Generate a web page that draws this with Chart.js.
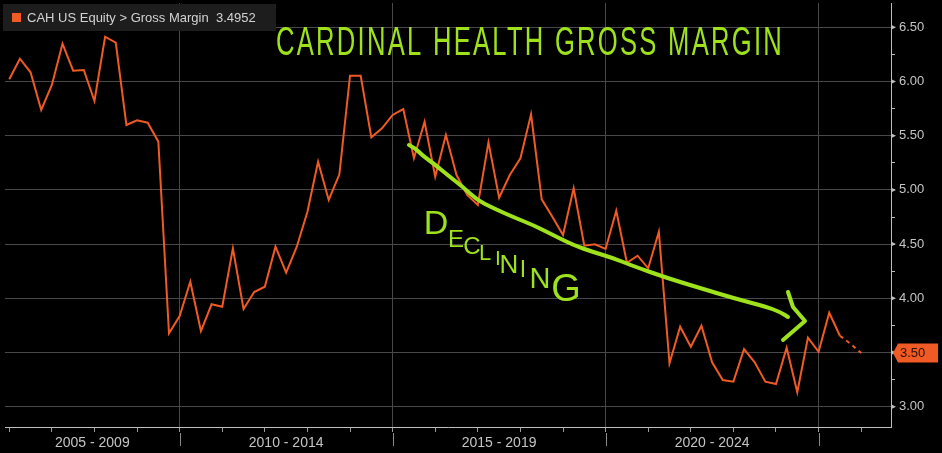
<!DOCTYPE html>
<html><head><meta charset="utf-8">
<script src="https://cdn.jsdelivr.net/npm/chart.js@4.4.1/dist/chart.umd.min.js"></script>
<style>html,body{margin:0;padding:0;background:#000;overflow:hidden}canvas{display:block}</style>
</head><body>
<canvas id="c" width="942" height="453"></canvas>
<script>
// ---- data ----
const quarterEnds = [
 "2005-12",
 "2006-03","2006-06","2006-09","2006-12",
 "2007-03","2007-06","2007-09","2007-12",
 "2008-03","2008-06","2008-09","2008-12",
 "2009-03","2009-06","2009-09","2009-12",
 "2010-03","2010-06","2010-09","2010-12",
 "2011-03","2011-06","2011-09","2011-12",
 "2012-03","2012-06","2012-09","2012-12",
 "2013-03","2013-06","2013-09","2013-12",
 "2014-03","2014-06","2014-09","2014-12",
 "2015-03","2015-06","2015-09","2015-12",
 "2016-03","2016-06","2016-09","2016-12",
 "2017-03","2017-06","2017-09","2017-12",
 "2018-03","2018-06","2018-09","2018-12",
 "2019-03","2019-06","2019-09","2019-12",
 "2020-03","2020-06","2020-09","2020-12",
 "2021-03","2021-06","2021-09","2021-12",
 "2022-03","2022-06","2022-09","2022-12",
 "2023-03","2023-06","2023-09","2023-12",
 "2024-03","2024-06","2024-09","2024-12",
 "2025-03","2025-06"
];
const grossMargin = [
 6.02,
 6.21,6.085,5.737,5.968,
 6.349,6.10,6.106,5.82,
 6.413,6.358,5.599,5.642,
 5.62,5.445,3.677,3.837,
 4.153,3.698,3.945,3.922,
 4.461,3.901,4.058,4.107,
 4.476,4.236,4.476,4.799,
 5.26,4.907,5.144,6.053,
 6.053,5.485,5.568,5.691,
 5.746,5.292,5.629,5.122,
 5.506,5.137,4.953,4.861,
 5.439,4.928,5.137,5.292,
 5.697,4.913,4.753,4.584,
 5.015,4.485,4.498,4.455,
 4.808,4.328,4.393,4.277,
 4.614,3.40,3.738,3.553,
 3.747,3.41,3.246,3.231,
 3.532,3.41,3.231,3.209,
 3.544,3.133,3.637,3.507,
 3.867,3.655
];
const estimateQuarters = ["2025-09","2025-12"];
const estimates = [3.58, 3.4952];
const yTickValues = [3.00,3.25,3.50,3.75,4.00,4.25,4.50,4.75,5.00,5.25,5.50,5.75,6.00,6.25,6.50];
const yearTicks = [2006,2007,2008,2009,2010,2011,2012,2013,2014,2015,2016,2017,2018,2019,2020,2021,2022,2023,2024,2025,2026];
const periodStarts = [2005,2010,2015,2020];
const periodLabels = ["2005 - 2009","2010 - 2014","2015 - 2019","2020 - 2024"];
const seriesName = "CAH US Equity > Gross Margin";
const lastValue = 3.4952;

// ---- derived ----
const X_MIN = 2005.9, X_MAX = 2026.7, Y_MIN = 2.813, Y_MAX = 6.724;
const toYear = s => { const [y,m] = s.split('-').map(Number); return y + m/12; };
const pts = quarterEnds.map((q,i)=>({x:toYear(q), y:grossMargin[i]}))
  .concat(estimateQuarters.map((q,i)=>({x:toYear(q), y:estimates[i]})));
const nActual = quarterEnds.length;
const periodCenters = periodStarts.map(s => (Math.max(s, X_MIN) + s + 5) / 2);

const ORANGE = '#f05a24', GREEN = '#9ee21b', GRID = '#484848', AXIS = '#bdbdbd', TXT = '#c4c4c4';
const FONT = '"Liberation Sans", Arial, sans-serif';

const overlay = {
  id: 'overlay',
  afterDraw(chart) {
    const ctx = chart.ctx, xs = chart.scales.x, ys = chart.scales.y;
    const ca = chart.chartArea;
    ctx.save();
    // y-axis triangles at labelled ticks
    ctx.fillStyle = AXIS;
    yTickValues.forEach(v => {
      if (Math.round(v*100) % 50 !== 0) return;
      const y = ys.getPixelForValue(v);
      ctx.beginPath();
      ctx.moveTo(ca.right, y - 2.5); ctx.lineTo(ca.right + 5, y); ctx.lineTo(ca.right, y + 2.5);
      ctx.closePath(); ctx.fill();
    });
    // x period separators
    ctx.strokeStyle = '#8a8a8a'; ctx.lineWidth = 1;
    periodStarts.concat([2025]).forEach(s => {
      if (s <= X_MIN) return;
      const x = Math.round(xs.getPixelForValue(s)) + 0.5;
      ctx.beginPath(); ctx.moveTo(x, ca.bottom + 6); ctx.lineTo(x, ca.bottom + 19); ctx.stroke();
    });
    // legend box
    ctx.fillStyle = '#1d1d1d';
    ctx.fillRect(3, 4, 273, 27);
    ctx.fillStyle = ORANGE;
    ctx.fillRect(12, 13, 9, 9);
    ctx.fillStyle = '#d2d2d2';
    ctx.font = '13px ' + FONT;
    ctx.textBaseline = 'middle'; ctx.textAlign = 'left';
    ctx.fillText(seriesName + '  ' + lastValue.toFixed(4), 27, 18);
    // last value tag
    const ty = ys.getPixelForValue(lastValue);
    ctx.fillStyle = ORANGE;
    ctx.beginPath();
    ctx.moveTo(ca.right + 2, ty);
    ctx.lineTo(ca.right + 7, ty - 9.5);
    ctx.lineTo(938, ty - 9.5);
    ctx.lineTo(938, ty + 9.5);
    ctx.lineTo(ca.right + 7, ty + 9.5);
    ctx.closePath(); ctx.fill();
    ctx.fillStyle = '#2a1208';
    ctx.font = '13px ' + FONT;
    ctx.fillText(lastValue.toFixed(2), 900, ty + 0.5);

    // hand-drawn annotations
    ctx.fillStyle = GREEN; ctx.strokeStyle = GREEN;
    const title = 'CARDINAL HEALTH GROSS MARGIN';
    ctx.font = '34px ' + FONT;
    ctx.textBaseline = 'alphabetic';
    ctx.letterSpacing = '3px';
    const w = ctx.measureText(title).width;
    ctx.save(); ctx.translate(276, 55); ctx.scale(508 / w, 1.2); ctx.fillText(title, 0, 0); ctx.restore();
    ctx.letterSpacing = '0px';

    const letters = [['D',436,225,34],['E',456,240,24],['C',472,247,24],['L',485,254,22],['I',498,259,21],
      ['N',509,266,26],['I',523,271,23],['N',540,280,29],['G',566,291,38]];
    ctx.textAlign = 'center'; ctx.textBaseline = 'middle';
    letters.forEach(([ch,x,y,s]) => { ctx.font = s + 'px ' + FONT; ctx.fillText(ch, x, y); });

    const curve = [[409,145],[415,148],[423,156],[433,163],[450,177],[463,187],[477,200],[493,208],[513,217],
      [533,225],[553,235],[573,245],[593,252],[613,258],[633,266],[667,278],[700,288],[733,298],[767,307],[780,312],[788,317]];
    ctx.lineWidth = 4; ctx.lineCap = 'round'; ctx.lineJoin = 'round';
    ctx.beginPath(); ctx.moveTo(curve[0][0], curve[0][1]);
    for (let i = 1; i < curve.length - 1; i++) {
      const mx = (curve[i][0] + curve[i+1][0]) / 2, my = (curve[i][1] + curve[i+1][1]) / 2;
      ctx.quadraticCurveTo(curve[i][0], curve[i][1], mx, my);
    }
    ctx.lineTo(curve[curve.length-1][0], curve[curve.length-1][1]);
    ctx.stroke();
    ctx.beginPath();
    ctx.moveTo(788, 292); ctx.lineTo(793, 307); ctx.lineTo(805, 321); ctx.lineTo(783, 340);
    ctx.stroke();
    ctx.restore();
  }
};

new Chart(document.getElementById('c'), {
  type: 'line',
  data: { datasets: [{
    label: seriesName,
    data: pts,
    borderColor: ORANGE,
    borderWidth: 2,
    pointRadius: 0,
    tension: 0,
    segment: { borderDash: c => c.p0DataIndex >= nActual - 1 ? [4, 4] : undefined }
  }]},
  options: {
    responsive: false,
    animation: false,
    layout: { padding: { left: 5, top: 3, right: 0, bottom: 0 } },
    plugins: { legend: { display: false }, tooltip: { enabled: false } },
    scales: {
      x: {
        type: 'linear', position: 'bottom', min: X_MIN, max: X_MAX,
        afterBuildTicks: s => { s.ticks = yearTicks.map(v => ({ value: v })); },
        ticks: { display: false },
        grid: {
          color: c => (c.tick && c.tick.value % 5 === 0) ? GRID : 'rgba(0,0,0,0)',
          tickColor: '#9a9a9a', tickLength: 5, drawTicks: true
        },
        border: { color: AXIS },
        afterFit: s => { s.height = 6; s.paddingLeft = 0; s.paddingRight = 0; }
      },
      x2: {
        type: 'linear', position: 'bottom', min: X_MIN, max: X_MAX,
        afterBuildTicks: s => { s.ticks = periodCenters.map(v => ({ value: v })); },
        ticks: { callback: (v, i) => periodLabels[i], color: TXT, font: { family: FONT, size: 14 },
                 padding: 2, autoSkip: false, maxRotation: 0, minRotation: 0 },
        grid: { display: false, drawTicks: false },
        border: { display: false },
        afterFit: s => { s.height = 20; s.paddingLeft = 0; s.paddingRight = 0; }
      },
      y: {
        type: 'linear', position: 'right', min: Y_MIN, max: Y_MAX,
        afterBuildTicks: s => { s.ticks = yTickValues.map(v => ({ value: v })); },
        ticks: { callback: v => (Math.round(v*100) % 50 === 0 ? v.toFixed(2) : ''), color: TXT,
                 font: { family: FONT, size: 13 }, padding: 4, autoSkip: false },
        grid: {
          color: c => (c.tick && Math.round(c.tick.value*100) % 50 === 0) ? GRID : 'rgba(0,0,0,0)',
          tickColor: AXIS, tickLength: 4
        },
        border: { color: AXIS },
        afterFit: s => { s.width = 51; s.paddingTop = 0; s.paddingBottom = 0; }
      }
    }
  },
  plugins: [overlay]
});
</script>
</body></html>
